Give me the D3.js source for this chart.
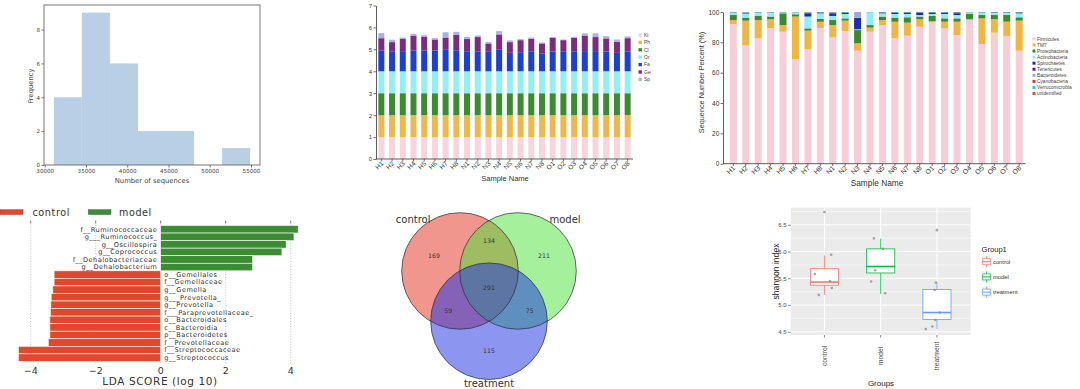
<!DOCTYPE html>
<html><head><meta charset="utf-8">
<script src="https://cdn.jsdelivr.net/npm/d3@7"></script>
<style>body{margin:0;background:#fff}svg{display:block}</style>
</head><body><svg id="c" width="1080" height="389"></svg>
<script>
// ---------- DATA ----------
const histEdges=[31100,34500,37900,41300,44700,48100,51500,54900];
const histCounts=[4,9,6,2,2,0,1];
const histXTicks=[30000,35000,40000,45000,50000,55000];
const histYTicks=[0,2,4,6,8];

const samples=["H1","H2","H3","H4","H5","H6","H7","H8","N1","N2","N3","N4","N5","N6","N7","N8","O1","O2","O3","O4","O5","O6","O7","O8"];
const genusNames=["Ki","Ph","Cl","Or","Fa","Ge","Sp"];
const gKi=[1,1,1,1,1,1,1,1,1,1,1,1,1,1,1,1,1,1,1,1,1,1,1,1];
const gPh=[1,1,1,1,1,1,1,1,1,1,1,1,1,1,1,1,1,1,1,1,1,1,1,1];
const gCl=[1,1,1,1,1,1,1,1,1,1,1,1,1,1,1,1,1,1,1,1,1,1,1,1];
const gOr=[1,1,1,1,1,1,1,1,1,1,1,1,1,1,1,1,1,1,1,1,1,1,1,1];
const gFa=[.95,.89,.92,.95,.95,.95,.98,.96,.89,.89,.89,.98,.84,.87,.89,.82,.90,.89,.89,.92,.92,.90,.84,.90];
const gGe=[.56,.44,.56,.68,.62,.50,.56,.71,.58,.67,.38,.70,.49,.55,.59,.45,.63,.53,.64,.71,.64,.60,.50,.61];
const gSp=[.23,.11,.06,.08,.08,.06,.24,.13,.10,.07,.06,.15,.08,.05,.06,.04,.04,.03,.04,.10,.17,.10,.11,.08];
const genusColors=["#f8d5dd","#f0b84a","#3b8b2f","#8ff0f5","#1c3fd6","#7b2b80","#a6b2ea"];
const genusYTicks=[0,1,2,3,4,5,6,7];

const phylaNames=["Firmicutes","TM7","Proteobacteria","Actinobacteria","Spirochaetes","Tenericutes","Bacteroidetes","Cyanobacteria","Verrucomicrobia","unidentified"];
const pFirm=[92.1,78,82.6,89.2,87,69,75.4,89.5,83.3,87.5,74.5,87,91.4,82.6,84.4,90.3,93.2,89.2,84.8,94.7,78.9,86.4,84.2,74.5];
const pTM7=[2.6,16.3,12.1,6.0,4.4,28,12.3,4.1,8.1,6.8,4.9,2.7,3.3,11.0,8.6,4.9,0.8,4.4,8.8,0.7,16.9,9.0,9.4,19.8];
const pProt=[3.3,2.0,2.9,1.8,7.7,1.5,1.5,1.8,3.3,1.5,8.7,1.7,2.3,2.7,3.5,1.8,3.4,2.2,2.2,3.3,2.2,2.6,4.4,2.2];
const pActi=[1.5,2.7,1.9,2.5,0.5,1.2,7.8,3.7,2.7,2.9,0.5,8.4,2.1,2.4,2.2,1.0,1.3,2.9,2.2,1.0,1.6,1.5,1.5,2.6];
const pSpir=[0.2,0.5,0.2,0.2,0.2,0.1,2.1,0.6,1.6,1.0,7.6,0.1,0.6,1.0,1.0,1.5,1.0,1.0,1.2,0.1,0.2,0.3,0.3,0.6];
const pTene=[0,0,0,0,0,0,0.3,0,0.6,0,0,0,0,0,0,0.3,0,0,0.5,0,0,0,0,0];
const pBact=[0,0,0,0,0,0,0,0,0,0,3.8,0,0,0,0,0,0,0,0,0,0,0,0,0];
const pCyan=[0,0,0,0,0,0,0,0,0,0,0,0,0,0,0,0,0,0,0,0,0,0,0,0];
const pVerr=[0.2,0.3,0.2,0.2,0.1,0.1,0.4,0.2,0.3,0.2,0,0.1,0.2,0.2,0.2,0.1,0.2,0.2,0.2,0.1,0.1,0.1,0.1,0.2];
const pUnid=[0.1,0.2,0.1,0.1,0.1,0.1,0.2,0.1,0.1,0.1,0,0,0.1,0.1,0.1,0.1,0.1,0.1,0.1,0.1,0.1,0.1,0.1,0.1];
const phylaColors=["#f7cdd7","#f0b545","#3a8a2e","#8ef0f6","#1a2fa8","#6a1a80","#a0a8e0","#e03030","#40c8c0","#c06040"];
const phylaYTicks=[0,20,40,60,80,100];

const ldaLabels=["f__Ruminococcaceae","g___Ruminococcus_","g__Oscillospira","g__Coprococcus","f__Dehalobacteriaceae","g__Dehalobacterium","o__Gemellales","f__Gemellaceae","g__Gemella","g___Prevotella_","g__Prevotella","f___Paraprevotellaceae_","o__Bacteroidales","c__Bacteroidia","p__Bacteroidetes","f__Prevotellaceae","f__Streptococcaceae","g__Streptococcus"];
const ldaScores=[4.23,4.10,3.86,3.73,2.83,2.83,-3.28,-3.28,-3.32,-3.37,-3.38,-3.39,-3.41,-3.41,-3.41,-3.46,-4.38,-4.38];
const ldaGroups=["model","model","model","model","model","model","control","control","control","control","control","control","control","control","control","control","control","control"];
const ldaTicks=[-4,-2,0,2,4];

const vennSets=["control","model","treatment"];
const vennOnly=[169,211,115];          // control, model, treatment only
const vennPairs=[134,75,59];           // control&model, model&treatment, control&treatment
const vennAll=291;

const boxGroups=["control","model","treatment"];
const boxColors=["#F8766D","#00BA38","#619CFF"];
const boxLow=[5.19,5.21,4.55];
const boxQ1=[5.37,5.60,4.73];
const boxMed=[5.43,5.72,4.86];
const boxQ3=[5.68,6.05,5.29];
const boxHigh=[5.93,6.24,5.43];
const ptsControl=[6.74,5.94,5.58,5.45,5.32,5.19];
const jitControl=[0,0.12,-0.17,0.1,0.13,-0.1];
const ptsModel=[6.25,6.05,5.65,5.44,5.22];
const jitModel=[-0.12,0.04,-0.1,-0.17,0.08];
const ptsTreat=[6.40,5.42,5.28,4.86,4.72,4.60,4.55];
const jitTreat=[0,-0.02,-0.04,0.05,-0.03,-0.08,-0.2];
const boxYTicks=[4.5,5.0,5.5,6.0,6.5];
const boxYMinor=[4.75,5.25,5.75,6.25,6.75];

// ---------- HELPERS ----------
const svg=d3.select("#c");
function styleAxis(g,fs,col,fam,showDomain){
  g.selectAll("text").attr("font-size",fs).attr("fill",col).attr("font-family",fam);
  g.selectAll("line").attr("stroke",col).attr("stroke-width",0.7);
  if(!showDomain) g.select(".domain").remove(); else g.select(".domain").attr("stroke",col).attr("stroke-width",0.8);
}
const DJ="DejaVu Sans", LS="Liberation Sans, Arial, sans-serif";

// ---------- PANEL 1: histogram ----------
{
  const g=svg.append("g");
  const x=d3.scaleLinear().domain([29910,56090]).range([44,260]);
  const y=d3.scaleLinear().domain([0,9.45]).range([165,5]);
  const bins=histCounts.map((c,i)=>({a:histEdges[i],b:histEdges[i+1],c}));
  g.selectAll("rect.h").data(bins).join("rect").attr("class","h")
    .attr("x",d=>x(d.a)).attr("width",d=>x(d.b)-x(d.a))
    .attr("y",d=>y(d.c)).attr("height",d=>y(0)-y(d.c)).attr("fill","#b8cfe5");
  g.append("rect").attr("x",44).attr("y",5).attr("width",216).attr("height",160)
    .attr("fill","none").attr("stroke","#555").attr("stroke-width",0.8);
  const ax=g.append("g").attr("transform","translate(0,165)")
    .call(d3.axisBottom(x).tickValues(histXTicks).tickSize(2.5).tickPadding(1.5).tickFormat(d3.format("d")));
  styleAxis(ax,5.6,"#444",DJ,false);
  const ay=g.append("g").attr("transform","translate(44,0)")
    .call(d3.axisLeft(y).tickValues(histYTicks).tickSize(2.5).tickPadding(1.5).tickFormat(d3.format("d")));
  styleAxis(ay,5.6,"#444",DJ,false);
  g.append("text").attr("transform","translate(33,86) rotate(-90)").attr("text-anchor","middle")
    .attr("font-family",DJ).attr("font-size",6.8).attr("fill","#444").text("Frequency");
  g.append("text").attr("x",152).attr("y",183).attr("text-anchor","middle")
    .attr("font-family",DJ).attr("font-size",6.8).attr("fill","#444").text("Number of sequences");
}

// ---------- PANEL 2: stacked genus ----------
{
  const g=svg.append("g");
  const x=d3.scaleBand().domain(samples).range([376,633]).paddingInner(0.44).paddingOuter(0.22);
  const y=d3.scaleLinear().domain([0,7]).range([159,5.5]);
  const series=[gKi,gPh,gCl,gOr,gFa,gGe,gSp];
  const rows=samples.map((s,i)=>{const o={s};genusNames.forEach((k,j)=>o[k]=series[j][i]);return o;});
  const st=d3.stack().keys(genusNames)(rows);
  st.forEach((layer,j)=>{
    g.selectAll(null).data(layer).join("rect")
      .attr("x",d=>x(d.data.s)).attr("width",x.bandwidth())
      .attr("y",d=>y(d[1])).attr("height",d=>y(d[0])-y(d[1])).attr("fill",genusColors[j]);
  });
  const ay=g.append("g").attr("transform","translate(376,0)")
    .call(d3.axisLeft(y).tickValues(genusYTicks).tickSize(2.5).tickPadding(1.5).tickSizeOuter(0).tickFormat(d3.format("d")));
  styleAxis(ay,6,"#333",LS,true);
  g.append("line").attr("x1",376).attr("x2",633).attr("y1",159).attr("y2",159).attr("stroke","#333").attr("stroke-width",0.8);
  g.selectAll("line.xt").data(samples).join("line").attr("class","xt")
    .attr("x1",d=>x(d)+x.bandwidth()/2).attr("x2",d=>x(d)+x.bandwidth()/2).attr("y1",159).attr("y2",161.5).attr("stroke","#333").attr("stroke-width",0.7);
  g.selectAll("text.xl").data(samples).join("text").attr("class","xl")
    .attr("transform",d=>`translate(${x(d)+x.bandwidth()/2+2.5},${164}) rotate(-45)`)
    .attr("text-anchor","end").attr("font-family",LS).attr("font-size",6.5).attr("fill","#333").text(d=>d);
  g.append("text").attr("x",505).attr("y",181).attr("text-anchor","middle")
    .attr("font-family",LS).attr("font-size",7.5).attr("fill","#333").text("Sample Name");
  svg.append("clipPath").attr("id","clip2").append("rect").attr("x",360).attr("y",0).attr("width",360).attr("height",195);
  g.append("text").attr("clip-path","url(#clip2)").attr("transform","translate(365.5,82) rotate(-90)").attr("text-anchor","middle")
    .attr("font-family",LS).attr("font-size",7.5).attr("fill","#333").text("Sequence Number Percent");
  const lg=g.append("g");
  genusNames.forEach((n,i)=>{
    lg.append("rect").attr("x",638.5).attr("y",33.3+i*7.4).attr("width",3.4).attr("height",3.4).attr("fill",genusColors[i]);
    lg.append("text").attr("x",644).attr("y",36.8+i*7.4).attr("font-family",LS).attr("font-size",5).attr("fill","#444").text(n);
  });
}

// ---------- PANEL 3: stacked phyla ----------
{
  const g=svg.append("g");
  const x=d3.scaleBand().domain(samples).range([727.1,1025.4]).paddingInner(0.437).paddingOuter(0.2185);
  const y=d3.scaleLinear().domain([0,100]).range([163.7,12]);
  const series=[pFirm,pTM7,pProt,pActi,pSpir,pTene,pBact,pCyan,pVerr,pUnid];
  const rows=samples.map((s,i)=>{const o={s};phylaNames.forEach((k,j)=>o[k]=series[j][i]);return o;});
  const st=d3.stack().keys(phylaNames)(rows);
  st.forEach((layer,j)=>{
    g.selectAll(null).data(layer).join("rect")
      .attr("x",d=>x(d.data.s)).attr("width",x.bandwidth())
      .attr("y",d=>y(d[1])).attr("height",d=>Math.max(0,y(d[0])-y(d[1]))).attr("fill",phylaColors[j]);
  });
  const ay=g.append("g").attr("transform","translate(723,0)")
    .call(d3.axisLeft(y).tickValues(phylaYTicks).tickSize(2.5).tickPadding(1.2).tickSizeOuter(0).tickFormat(d3.format("d")));
  styleAxis(ay,6.5,"#333",LS,true);
  g.append("line").attr("x1",723).attr("x2",1025.5).attr("y1",163.7).attr("y2",163.7).attr("stroke","#333").attr("stroke-width",0.8);
  g.selectAll("line.xt").data(samples).join("line").attr("class","xt")
    .attr("x1",d=>x(d)+x.bandwidth()/2).attr("x2",d=>x(d)+x.bandwidth()/2).attr("y1",163.7).attr("y2",166).attr("stroke","#333").attr("stroke-width",0.7);
  g.selectAll("text.xl").data(samples).join("text").attr("class","xl")
    .attr("transform",d=>`translate(${x(d)+x.bandwidth()/2+2.5},${168.5}) rotate(-45)`)
    .attr("text-anchor","end").attr("font-family",LS).attr("font-size",7).attr("fill","#333").text(d=>d);
  g.append("text").attr("x",877).attr("y",186).attr("text-anchor","middle")
    .attr("font-family",LS).attr("font-size",8.3).attr("fill","#333").text("Sample Name");
  g.append("text").attr("transform","translate(704,82.5) rotate(-90)").attr("text-anchor","middle")
    .attr("font-family",LS).attr("font-size",7.3).attr("fill","#333").text("Sequence Number Percent (%)");
  const lg=g.append("g");
  phylaNames.forEach((n,i)=>{
    lg.append("rect").attr("x",1032.5).attr("y",37.4+i*6.07).attr("width",3).attr("height",3).attr("fill",phylaColors[i]);
    lg.append("text").attr("x",1037).attr("y",40.5+i*6.07).attr("font-family",LS).attr("font-size",4.8).attr("fill","#444").text(n);
  });
}

// ---------- PANEL 4: LDA ----------
{
  const g=svg.append("g");
  const x=d3.scaleLinear().domain([-4,4]).range([30.7,290.7]);
  const y=d3.scaleBand().domain(ldaLabels).range([225.5,361.4]);
  const col={control:"#e0472d",model:"#3c8c33"};
  g.selectAll("line.gr").data(ldaTicks).join("line").attr("class","gr")
    .attr("x1",d=>x(d)).attr("x2",d=>x(d)).attr("y1",222).attr("y2",364)
    .attr("stroke","#9a9a9a").attr("stroke-width",0.6).attr("stroke-dasharray","1,1.6");
  g.selectAll("line.tt").data(ldaTicks).join("line").attr("class","tt")
    .attr("x1",d=>x(d)).attr("x2",d=>x(d)).attr("y1",220.5).attr("y2",223.5).attr("stroke","#555").attr("stroke-width",0.7);
  const rows=ldaLabels.map((l,i)=>({l,v:ldaScores[i],grp:ldaGroups[i]}));
  g.selectAll("rect.b").data(rows).join("rect").attr("class","b")
    .attr("x",d=>x(Math.min(0,d.v))).attr("width",d=>Math.abs(x(d.v)-x(0)))
    .attr("y",d=>y(d.l)).attr("height",y.bandwidth())
    .attr("fill",d=>col[d.grp]).attr("stroke","#fff").attr("stroke-width",0.6);
  g.selectAll("text.bl").data(rows).join("text").attr("class","bl")
    .attr("x",d=>d.v>0?x(0)-3.5:x(0)+3.5).attr("y",d=>y(d.l)+y.bandwidth()/2+2.3)
    .attr("text-anchor",d=>d.v>0?"end":"start")
    .attr("font-family",DJ).attr("font-size",6.6).attr("letter-spacing",0.45).attr("fill","#333").text(d=>d.l);
  g.selectAll("text.tk").data(ldaTicks).join("text").attr("class","tk")
    .attr("x",d=>x(d)).attr("y",373.5).attr("text-anchor","middle")
    .attr("font-family",DJ).attr("font-size",9.5).attr("fill","#333").text(d=>d<0?"\u2212"+Math.abs(d):d);
  g.append("text").attr("x",160).attr("y",385).attr("text-anchor","middle")
    .attr("font-family",DJ).attr("font-size",10.5).attr("letter-spacing",0.6).attr("fill","#333").text("LDA SCORE (log 10)");
  // legend
  g.append("rect").attr("x",0).attr("y",209.6).attr("width",23).attr("height",5).attr("fill",col.control).attr("stroke","#a33").attr("stroke-width",0.4);
  g.append("text").attr("x",32.5).attr("y",215.5).attr("font-family",DJ).attr("font-size",9.6).attr("letter-spacing",0.6).attr("fill","#333").text("control");
  g.append("rect").attr("x",88.3).attr("y",209.6).attr("width",22.7).attr("height",5).attr("fill",col.model).attr("stroke","#264").attr("stroke-width",0.4);
  g.append("text").attr("x",119).attr("y",215.5).attr("font-family",DJ).attr("font-size",9.6).attr("letter-spacing",0.6).attr("fill","#333").text("model");
}

// ---------- PANEL 5: Venn ----------
{
  const g=svg.append("g");
  const cx=489, cy=287.7, R=33.5, r=58.3;
  const ang=[-150,-30,90].map(a=>a*Math.PI/180);
  const circ=vennSets.map((s,i)=>({s,x:cx+R*Math.cos(ang[i]),y:cy+R*Math.sin(ang[i])}));
  const fills=["#e12d1a","#4be137","#192de1"];
  g.selectAll("circle.f").data(circ).join("circle").attr("class","f")
    .attr("cx",d=>d.x).attr("cy",d=>d.y).attr("r",r).attr("fill",(d,i)=>fills[i]).attr("fill-opacity",0.5);
  g.selectAll("circle.o").data(circ).join("circle").attr("class","o")
    .attr("cx",d=>d.x).attr("cy",d=>d.y).attr("r",r).attr("fill","none").attr("stroke","#2a2a3a").attr("stroke-width",0.7);
  const lab=[];
  vennOnly.forEach((v,i)=>lab.push({v,x:cx+63.5*Math.cos(ang[i]),y:cy+63.5*Math.sin(ang[i])}));
  const third=[2,0,1];
  vennPairs.forEach((v,i)=>lab.push({v,x:cx-47*Math.cos(ang[third[i]]),y:cy-47*Math.sin(ang[third[i]])}));
  lab.push({v:vennAll,x:cx,y:cy});
  g.selectAll("text.n").data(lab).join("text").attr("class","n")
    .attr("x",d=>d.x).attr("y",d=>d.y+2.2).attr("text-anchor","middle")
    .attr("font-family",DJ).attr("font-size",6.2).attr("fill","#333").text(d=>d.v);
  g.append("text").attr("x",430.5).attr("y",222.5).attr("text-anchor","end").attr("font-family",DJ).attr("font-size",10).attr("fill","#333").text(vennSets[0]);
  g.append("text").attr("x",549.5).attr("y",222.5).attr("text-anchor","start").attr("font-family",DJ).attr("font-size",10).attr("fill","#333").text(vennSets[1]);
  g.append("text").attr("x",489).attr("y",386.5).attr("text-anchor","middle").attr("font-family",DJ).attr("font-size",10).attr("fill","#333").text(vennSets[2]);
}

// ---------- PANEL 6: boxplot ----------
{
  const g=svg.append("g");
  const x=d3.scalePoint().domain(boxGroups).range([790.7,970.7]).padding(0.6);
  const y=d3.scaleLinear().domain([4.44,6.82]).range([335,207.7]);
  const step=x.step();
  g.append("rect").attr("x",790.7).attr("y",207.7).attr("width",180).attr("height",127.3).attr("fill","#ebebeb");
  g.selectAll("line.mi").data(boxYMinor).join("line").attr("class","mi")
    .attr("x1",790.7).attr("x2",970.7).attr("y1",d=>y(d)).attr("y2",d=>y(d)).attr("stroke","#fff").attr("stroke-width",0.5);
  g.selectAll("line.ma").data(boxYTicks).join("line").attr("class","ma")
    .attr("x1",790.7).attr("x2",970.7).attr("y1",d=>y(d)).attr("y2",d=>y(d)).attr("stroke","#fff").attr("stroke-width",1);
  g.selectAll("line.mv").data(boxGroups).join("line").attr("class","mv")
    .attr("x1",d=>x(d)).attr("x2",d=>x(d)).attr("y1",207.7).attr("y2",335).attr("stroke","#fff").attr("stroke-width",1);
  const bw=step*0.5;
  boxGroups.forEach((grp,i)=>{
    const cxp=x(grp), c=boxColors[i];
    g.append("line").attr("x1",cxp).attr("x2",cxp).attr("y1",y(boxHigh[i])).attr("y2",y(boxQ3[i])).attr("stroke",c).attr("stroke-width",0.8);
    g.append("line").attr("x1",cxp).attr("x2",cxp).attr("y1",y(boxQ1[i])).attr("y2",y(boxLow[i])).attr("stroke",c).attr("stroke-width",0.8);
    g.append("rect").attr("x",cxp-bw/2).attr("width",bw).attr("y",y(boxQ3[i])).attr("height",y(boxQ1[i])-y(boxQ3[i]))
      .attr("fill","#fff").attr("stroke",c).attr("stroke-width",0.8);
    g.append("line").attr("x1",cxp-bw/2).attr("x2",cxp+bw/2).attr("y1",y(boxMed[i])).attr("y2",y(boxMed[i])).attr("stroke",c).attr("stroke-width",1.6);
  });
  const pts=[[ptsControl,jitControl],[ptsModel,jitModel],[ptsTreat,jitTreat]];
  pts.forEach(([vals,jit],i)=>{
    g.selectAll(null).data(vals).join("circle").attr("cx",(d,k)=>x(boxGroups[i])+jit[k]*step).attr("cy",d=>y(d))
      .attr("r",1.3).attr("fill","#8a8a8a").attr("fill-opacity",0.75);
  });
  const ay=g.append("g").attr("transform","translate(790.7,0)")
    .call(d3.axisLeft(y).tickValues(boxYTicks).tickSize(2.5).tickPadding(1.5).tickFormat(d3.format(".1f")));
  styleAxis(ay,6,"#4d4d4d",LS,false);
  g.selectAll("line.xt").data(boxGroups).join("line").attr("class","xt")
    .attr("x1",d=>x(d)).attr("x2",d=>x(d)).attr("y1",335).attr("y2",337.5).attr("stroke","#4d4d4d").attr("stroke-width",0.7);
  g.selectAll("text.xl").data(boxGroups).join("text").attr("class","xl")
    .attr("transform",d=>`translate(${x(d)+2.2},356) rotate(-90)`).attr("text-anchor","middle")
    .attr("font-family",LS).attr("font-size",6.8).attr("fill","#4d4d4d").text(d=>d);
  g.append("text").attr("x",881).attr("y",386).attr("text-anchor","middle").attr("font-family",LS).attr("font-size",8).attr("fill","#222").text("Groups");
  g.append("text").attr("transform","translate(778.5,271.5) rotate(-90)").attr("text-anchor","middle")
    .attr("font-family",LS).attr("font-size",8.6).attr("fill","#222").text("shannon index");
  g.append("text").attr("x",981.5).attr("y",251.5).attr("font-family",LS).attr("font-size",7.6).attr("fill","#222").text("Group1");
  boxGroups.forEach((grp,i)=>{
    const ky=261.7+i*15.2, kx=986.5, c=boxColors[i];
    g.append("rect").attr("x",kx-5).attr("y",ky-6).attr("width",10).attr("height",12).attr("fill","#f2f2f2");
    g.append("line").attr("x1",kx).attr("x2",kx).attr("y1",ky-5.5).attr("y2",ky+5.5).attr("stroke",c).attr("stroke-width",0.7);
    g.append("rect").attr("x",kx-3.8).attr("y",ky-3).attr("width",7.6).attr("height",6).attr("fill","#fff").attr("stroke",c).attr("stroke-width",0.7);
    g.append("line").attr("x1",kx-3.8).attr("x2",kx+3.8).attr("y1",ky).attr("y2",ky).attr("stroke",c).attr("stroke-width",1);
    g.append("text").attr("x",993).attr("y",ky+2).attr("font-family",LS).attr("font-size",5.8).attr("fill","#333").text(grp);
  });
}
</script></body></html>
